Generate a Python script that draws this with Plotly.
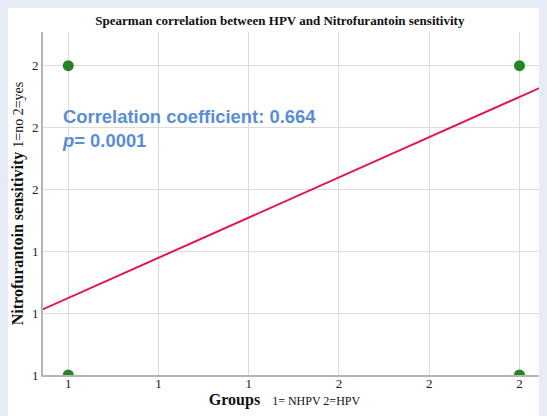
import plotly.graph_objects as go

# наблюдения: группа (1=NHPV, 2=HPV) и чувствительность (1=no, 2=yes)
groups = [1, 2, 1, 2]
sensitivity = [2, 2, 1, 1]

fit_x = [0.9, 2.1]
fit_y = [1.184, 1.964]

tick_vals = [1.0, 1.2, 1.4, 1.6, 1.8, 2.0]

rho = "0.664"
p_value = "0.0001"

SERIF = "Liberation Serif, Times New Roman, serif"
SANS = "Liberation Sans, Arial, sans-serif"

fig = go.Figure()
fig.add_trace(go.Scatter(
    x=fit_x, y=fit_y, mode="lines",
    line=dict(color="#e0174a", width=2),
    hoverinfo="skip", showlegend=False,
))
fig.add_trace(go.Scatter(
    x=groups, y=sensitivity, mode="markers",
    marker=dict(color="#238523", size=11),
    showlegend=False,
))

fig.add_annotation(
    xref="paper", yref="paper", x=0.033, y=0.791,
    xanchor="left", yanchor="top", align="left", showarrow=False,
    text=f"<b>Correlation coefficient: {rho}<br><i>p</i>= {p_value}</b>",
    font=dict(family=SANS, size=18.4, color="#5a8dd6"),
)

axis_common = dict(
    tickmode="array", tickvals=tick_vals, tickformat=".0f",
    showgrid=True, gridcolor="#dcdcdc", gridwidth=1,
    showline=True, linecolor="#b4b4b4", linewidth=2,
    zeroline=False, ticks="",
    tickfont=dict(family=SERIF, size=13, color="#222"),
)

# хвостовые пробелы сдвигают подпись чуть левее центра, как на исходнике
fig.update_xaxes(
    range=[0.944, 2.061], **axis_common, ticklabelstandoff=-5,
    title=dict(
        text="<b>Groups</b>&nbsp;&nbsp; <span style='font-size:12px'>1= NHPV 2=HPV"
             "&nbsp;&nbsp;&nbsp;&nbsp;&nbsp;&nbsp;&nbsp;</span>",
        font=dict(family=SERIF, size=16, color="#111"), standoff=2,
    ),
)
fig.update_yaxes(
    range=[1.0, 2.109], **axis_common,
    title=dict(
        text="<b>Nitrofurantoin sensitivity</b> <span style='font-size:14px'>1=no 2=yes</span>",
        font=dict(family=SERIF, size=16, color="#111"), standoff=4,
    ),
)

fig.update_layout(
    width=547, height=416,
    margin=dict(l=35, r=8, t=24, b=49),
    paper_bgcolor="white", plot_bgcolor="white",
    title=dict(
        text="<b>Spearman correlation between HPV and Nitrofurantoin sensitivity</b>",
        font=dict(family=SERIF, size=13, color="#111"),
        x=0.47, xref="paper", xanchor="center", y=0.971, yanchor="middle",
    ),
)

# голубой фон страницы вокруг графика, как на исходнике
fig.write_html("out.html", post_script="document.body.style.background='#e5ecf6';")
